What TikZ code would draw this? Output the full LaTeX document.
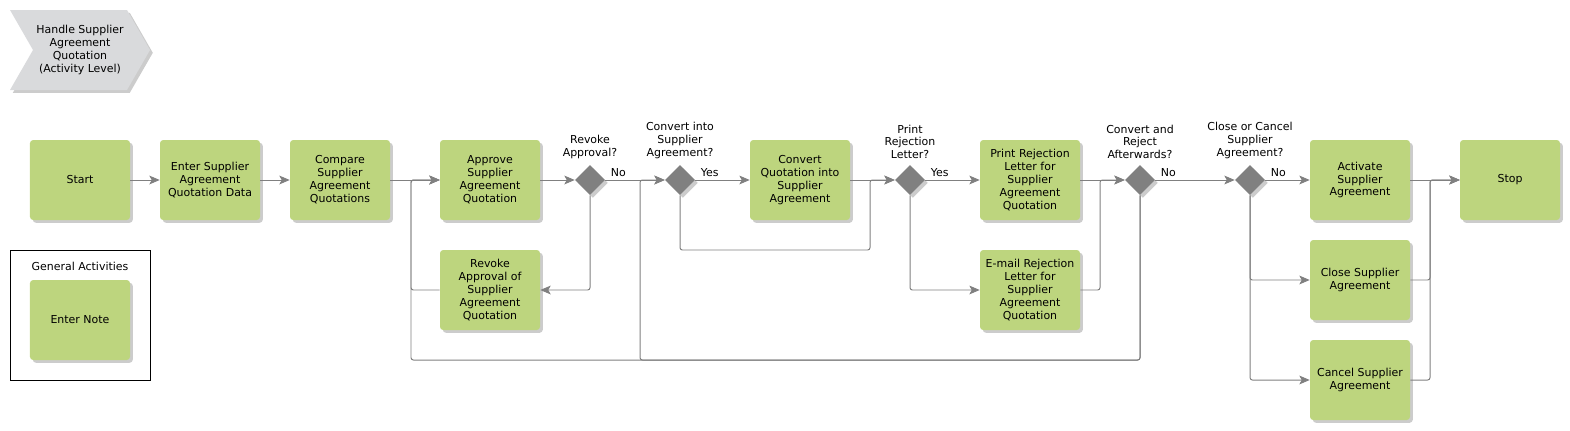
\documentclass[tikz,border=0pt]{standalone}
\usepackage{fontspec}
\setmainfont{DejaVu Sans}
\usetikzlibrary{arrows.meta,positioning,shapes.geometric,shadows}
\definecolor{actgreen}{RGB}{189,213,126}
\definecolor{rulegray}{RGB}{128,128,128}
\definecolor{headgray}{RGB}{217,218,220}

\begin{document}
\begin{tikzpicture}[x=0.25mm,y=-0.25mm,>={Stealth[length=2.6mm,width=2.2mm,inset=0.6mm]},
  every node/.style={font=\fontsize{7.8}{9.2}\selectfont},
  shd/.style={drop shadow={shadow xshift=0.7mm,shadow yshift=-0.7mm,opacity=0.2,fill=black}},
  act/.style={rectangle,rounded corners=0.8mm,fill=actgreen,minimum width=25mm,
    minimum height=20mm,align=center,inner sep=1pt,shd},
  dec/.style={diamond,fill=rulegray,minimum size=7.5mm,inner sep=0pt,shd},
  q/.style={align=center,inner sep=1pt},
  fl/.style={->,rulegray,line width=0.7pt,rounded corners=0.6mm},
  yn/.style={anchor=south west,inner sep=0.5mm,xshift=0.8mm,yshift=0.3mm,text=black}]
  \useasboundingbox (0,0) rectangle (1570,430);
  % header
  \fill[headgray,shd] (10,10) -- (127,10) -- (150,50) -- (127,90) -- (10,90) -- (33,50) -- cycle;
  \node[q] (head) at (80,50) {Handle Supplier\\Agreement\\Quotation\\(Activity Level)};
  % general activities
  \draw[line width=0.6pt] (10,250) rectangle (150,380);
  \node (gen) at (80,266) {General Activities};
  \node[act] (note) at (80,320) {Enter Note};
  % main flow
  \node[act] (start) at (80,180) {Start};
  \node[act] (enter) at (210,180) {Enter Supplier\\Agreement\\Quotation Data};
  \node[act] (compare) at (340,180) {Compare\\Supplier\\Agreement\\Quotations};
  \node[act] (approve) at (490,180) {Approve\\Supplier\\Agreement\\Quotation};
  \node[act] (revoke) at (490,290) {Revoke\\Approval of\\Supplier\\Agreement\\Quotation};
  \node[dec] (d1) at (590,180) {};
  \node[dec] (d2) at (680,180) {};
  \node[act] (convert) at (800,180) {Convert\\Quotation into\\Supplier\\Agreement};
  \node[dec] (d3) at (910,180) {};
  \node[act] (print) at (1030,180) {Print Rejection\\Letter for\\Supplier\\Agreement\\Quotation};
  \node[act] (email) at (1030,290) {E-mail Rejection\\Letter for\\Supplier\\Agreement\\Quotation};
  \node[dec] (d4) at (1140,180) {};
  \node[dec] (d5) at (1250,180) {};
  \node[act] (activate) at (1360,180) {Activate\\Supplier\\Agreement};
  \node[act] (close) at (1360,280) {Close Supplier\\Agreement};
  \node[act] (cancel) at (1360,380) {Cancel Supplier\\Agreement};
  \node[act] (stop) at (1510,180) {Stop};
  % questions
  \node[q,above=1mm of d1] (q1) {Revoke\\Approval?};
  \node[q,above=1mm of d2] (q2) {Convert into\\Supplier\\Agreement?};
  \node[q,above=1mm of d3] (q3) {Print\\Rejection\\Letter?};
  \node[q,above=1mm of d4] (q4) {Convert and\\Reject\\Afterwards?};
  \node[q,above=1mm of d5] (q5) {Close or Cancel\\Supplier\\Agreement?};
  % bus points
  \coordinate (busA) at (411,360);
  \coordinate (busB) at (640,360);
  \coordinate (busC) at (870,250);
  \coordinate (busD) at (1100,290);
  \coordinate (busE) at (1430,380);
  % connectors
  \draw[fl] (start) -- (enter);
  \draw[fl] (enter) -- (compare);
  \draw[fl] (compare) -- (approve);
  \draw[fl] (approve) -- (d1);
  \draw[fl] (d1) -- node[yn,pos=0]{No} (d2);
  \draw[fl] (d1.south) |- (revoke.east);
  \draw[fl] (revoke.west) -- (revoke.west -| busA) |- (approve.west);
  \draw[fl] (d4.south) |- (busA) |- (approve.west);
  \draw[fl] (d4.south) |- (busB) |- (d2.west);
  \draw[fl] (d2) -- node[yn,pos=0]{Yes} (convert);
  \draw[fl] (d2.south) |- (busC) |- (d3.west);
  \draw[fl] (convert) -- (d3);
  \draw[fl] (d3) -- node[yn,pos=0]{Yes} (print);
  \draw[fl] (d3.south) |- (email.west);
  \draw[fl] (print) -- (d4);
  \draw[fl] (email.east) -- (busD) |- (d4.west);
  \draw[fl] (d4) -- node[yn,pos=0]{No} (d5);
  \draw[fl] (d5) -- node[yn,pos=0]{No} (activate);
  \draw[fl] (d5.south) |- (close.west);
  \draw[fl] (d5.south) |- (cancel.west);
  \draw[fl] (activate) -- (stop);
  \draw[fl] (close.east) -- (close.east -| busE) |- (stop.west);
  \draw[fl] (cancel.east) -- (busE) |- (stop.west);
\end{tikzpicture}
\end{document}
